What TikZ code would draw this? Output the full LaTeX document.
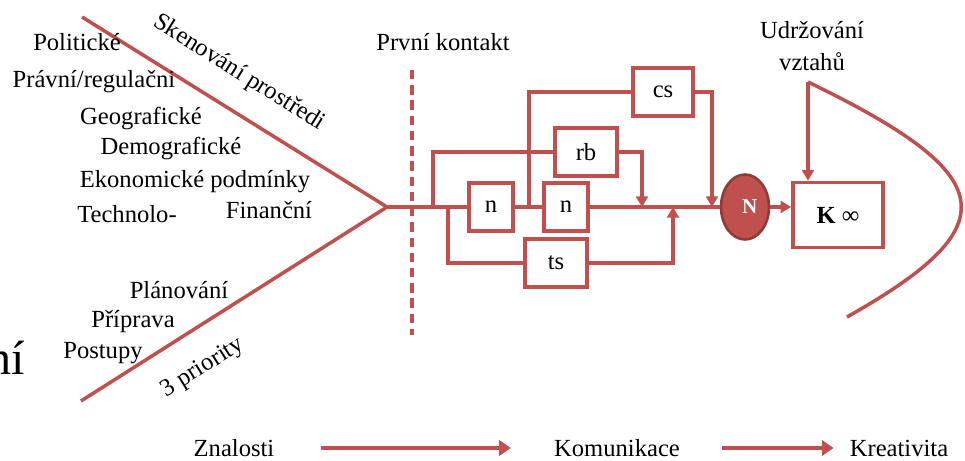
\documentclass[tikz,border=0pt]{standalone}
\usepackage{fontspec}
\setmainfont{Liberation Serif}
\usetikzlibrary{arrows.meta,positioning,shapes.geometric}
\definecolor{cervena}{HTML}{C0504D}
\definecolor{tmava}{HTML}{8E3B39}
\tikzset{
  kost/.style={draw=cervena, line width=3pt},
  blok/.style={draw=cervena, line width=3pt, fill=white, minimum height=1.45cm, inner sep=0pt, font=\fontsize{21}{24}\selectfont},
  sip/.style={kost, -{Triangle[width=10pt,length=9pt]}},
  tlusta/.style={draw=cervena, line width=4pt, -{Triangle[width=13pt,length=10pt]}},
  popis/.style={font=\fontsize{21}{24}\selectfont, inner sep=0pt},
  every node/.style={text=black}
}

\begin{document}
\begin{tikzpicture}[x=0.03cm,y=-0.03cm]
  \useasboundingbox (0,0) rectangle (965,461);
  \coordinate (V) at (387,207);
  \coordinate (A) at (82,17);
  \coordinate (B) at (81,401);

  % kostra ryby
  \draw[kost] (A) -- (V) -- (B);
  \node[popis, rotate=-32] (sken) at (239,73) {Skenování prostředi};
  \node[popis, rotate=32] (prio) at (203,368) {3 priority};

  \node[popis] (pol) at (77,42) {Politické};
  \node[popis] (prav) at (94,82) {Právní/regulačni};
  \node[popis] (geo) at (141,118) {Geografické};
  \node[popis] (dem) at (171,148) {Demografické};
  \node[popis] (eko) at (195,182) {Ekonomické podmínky};
  \node[popis] (tech) at (127,214) {Technolo-};
  \node[popis] (fin) at (269,210) {Finanční};
  \node[popis] (plan) at (179,290) {Plánování};
  \node[popis] (prip) at (133,322) {Příprava};
  \node[popis] (post) at (103,353) {Postupy};
  \node[font=\fontsize{41}{45}\selectfont, anchor=base east, inner sep=0pt] (ni) at (25,374) {ní};

  % prvni kontakt
  \draw[cervena, line width=3pt, dash pattern=on 8pt off 5pt] (412,70) -- (412,335);
  \node[popis] (pk) at (443,42) {První kontakt};

  \node[blok, minimum width=1.32cm] (n1) at (491,207) {n};
  \node[blok, minimum width=1.32cm] (n2) at (566,207) {n};
  \node[blok, minimum width=1.86cm] (rb) at (586,152) {rb};
  \node[blok, minimum width=1.8cm] (cs) at (663,92) {cs};
  \node[blok, minimum width=1.86cm] (ts) at (556,263) {ts};
  \node[ellipse, draw=tmava, fill=cervena, line width=2.2pt, minimum width=1.44cm,
        minimum height=1.95cm, inner sep=0pt, text=white,
        font=\fontsize{18}{20}\selectfont\bfseries] (N) at (745,207) {\hspace{8pt}N};
  \node[blok, minimum width=2.7cm, minimum height=1.95cm] (K) at (838,215) {\textbf{K} ∞};

  \draw[kost] (V) -- (n1.west);
  \draw[kost] (n1.east) -- (n2.west);
  \draw[kost] (n2.east) -- (N.west);

  \coordinate (rbz) at (433,207); \coordinate (rbk) at (642,207);
  \coordinate (csz) at (529,207); \coordinate (csk) at (712,207);
  \coordinate (tsz) at (448,207); \coordinate (tsk) at (673,207);
  \draw[kost] (rbz) |- (rb.west);
  \draw[sip] (rb.east) -| (rbk);
  \draw[kost] (csz) |- (cs.west);
  \draw[sip] (cs.east) -| (csk);
  \draw[kost] (tsz) |- (ts.west);
  \draw[sip] (ts.east) -| (tsk);

  \draw[sip] (N.east) -- (N.east -| K.west);

  % ocas
  \node[popis, align=center, font=\fontsize{21}{27}\selectfont] (udr) at (812,46) {Udržování\\vztahů};
  \coordinate (U) at (808,82);
  \draw[sip] (U) -- (U |- K.north);
  \draw[kost] (U) .. controls (1000,175) and (1010,225) .. (847,317);

  % spodni radek
  \node[popis] (zn) at (234,448) {Znalosti};
  \node[popis] (kom) at (617,448) {Komunikace};
  \node[popis] (kre) at (899,448) {Kreativita};
  \draw[tlusta, shorten <=1.38cm, shorten >=1.29cm] (zn) -- (kom);
  \draw[tlusta, shorten <=1.26cm, shorten >=0.48cm] (kom) -- (kre);
\end{tikzpicture}
\end{document}
